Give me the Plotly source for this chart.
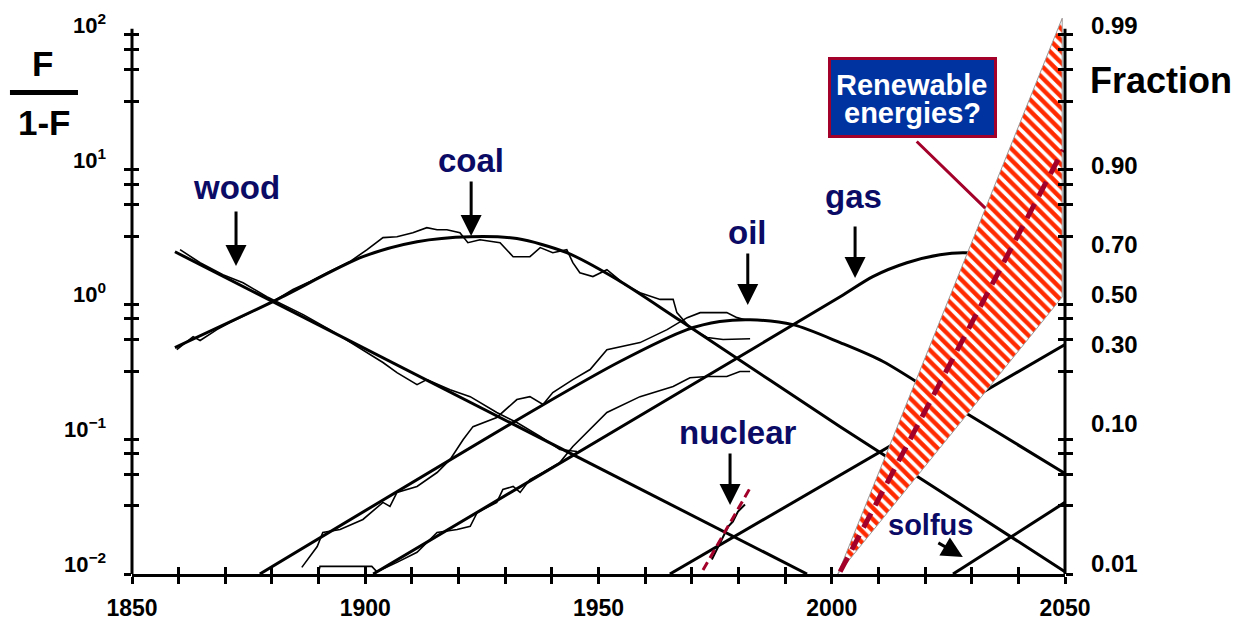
import math
import plotly.graph_objects as go

# ---------------- data (F/(1-F) versus year) ----------------
wood_fit_year = [1859.2, 1994.7]
wood_fit_val = [2.46, 0.01]

coal_fit_year = [1859.2, 1880.2, 1899.5, 1911.1, 1922.5, 1932.5, 1943.2, 1954.0, 1967.5, 2001.8, 2050.0]
coal_fit_val = [0.479, 1.05, 2.26, 2.92, 3.18, 3.08, 2.42, 1.53, 0.759, 0.124, 0.0104]

oil_fit_year = [1877.4, 1937.5, 1954.6, 1969.0, 1976.0, 1982.5, 1991.7, 2001.8, 2011.0, 2027.5, 2050.0]
oil_fit_val = [0.01, 0.175, 0.377, 0.650, 0.746, 0.770, 0.708, 0.521, 0.377, 0.166, 0.0557]

gas_fit_year = [1901.7, 1971.8, 2001.8, 2008.8, 2016.1, 2023.2, 2028.1, 2036.0, 2044.6]
gas_fit_val = [0.01, 0.275, 1.14, 1.61, 2.04, 2.34, 2.42, 2.30, 1.81]

nuclear_fit_year = [1965.3, 2050.0]
nuclear_fit_val = [0.01, 0.504]

solfus_fit_year = [2026.0, 2050.0]
solfus_fit_val = [0.01, 0.034]

# historical data
wood_data_year = [1860.3, 1864.6, 1869.5, 1873.8, 1878.9, 1886.7, 1892.4, 1899.5, 1903.8, 1906.8,
                  1911.1, 1913.2, 1918.2, 1922.5, 1928.2, 1932.5, 1937.5, 1941.7, 1945.4]
wood_data_val = [2.55, 2.04, 1.66, 1.45, 1.14, 0.840, 0.650, 0.462, 0.371, 0.312,
                 0.254, 0.277, 0.233, 0.207, 0.158, 0.133, 0.105, 0.0839, 0.0811]

coal_data_year = [1859.6, 1863.1, 1864.6, 1868.2, 1871.0, 1875.3, 1880.2, 1884.5, 1888.2, 1891.8,
                  1896.7, 1900.4, 1903.8, 1906.8, 1910.2, 1913.2, 1915.4, 1917.5, 1920.3, 1922.0,
                  1924.6, 1928.9, 1931.7, 1935.3, 1937.5, 1940.2, 1943.2, 1944.5, 1946.0, 1948.8,
                  1951.8, 1955.7, 1958.9, 1963.2, 1966.0, 1966.8, 1969.6, 1973.3, 1976.7, 1982.5]
coal_data_val = [0.462, 0.577, 0.540, 0.650, 0.733, 0.869, 1.05, 1.29, 1.48, 1.72,
                 2.08, 2.55, 3.13, 3.18, 3.40, 3.71, 3.58, 3.58, 3.40, 2.87,
                 3.02, 2.87, 2.26, 2.26, 2.64, 2.42, 2.55, 2.04, 1.72, 1.61,
                 1.81, 1.40, 1.22, 1.09, 1.09, 0.869, 0.673, 0.568, 0.549, 0.557]

oil_data_year = [1886.4, 1889.7, 1890.9, 1894.6, 1899.5, 1903.8, 1905.3, 1906.8, 1911.1, 1915.4,
                 1918.2, 1921.0, 1923.1, 1928.2, 1932.5, 1935.3, 1938.1, 1940.2, 1944.5, 1948.2,
                 1951.8, 1958.9, 1964.7, 1969.0, 1971.8, 1977.5, 1979.7, 1981.4]
oil_data_val = [0.0112, 0.0160, 0.0203, 0.0214, 0.0254, 0.0340, 0.0317, 0.0403, 0.0446, 0.0566,
                0.0708, 0.0995, 0.124, 0.145, 0.197, 0.207, 0.181, 0.222, 0.277, 0.329,
                0.462, 0.521, 0.650, 0.798, 0.869, 0.869, 0.798, 0.770]

gas_data_year = [1889.9, 1890.3, 1901.4, 1902.5, 1906.8, 1911.1, 1915.4, 1919.7, 1922.5, 1924.0,
                 1928.2, 1929.5, 1931.7, 1933.2, 1935.3, 1938.1, 1941.7, 1944.5, 1951.8, 1958.9,
                 1966.0, 1969.6, 1973.3, 1977.5, 1980.3, 1982.5]
gas_data_val = [0.01, 0.0114, 0.0114, 0.0104, 0.0122, 0.0145, 0.0203, 0.0214, 0.0226, 0.0286,
                0.0340, 0.0424, 0.0446, 0.0403, 0.0502, 0.0566, 0.0671, 0.0883, 0.158, 0.207,
                0.246, 0.286, 0.292, 0.292, 0.318, 0.318]

nuclear_data_year = [1974.3, 1976.5, 1977.8, 1978.8, 1979.9, 1981.4]
nuclear_data_val = [0.0128, 0.018, 0.0225, 0.0245, 0.0291, 0.0328]

nuclear_trend_year = [1972.4, 1982.5]
nuclear_trend_val = [0.0107, 0.0435]

renew_band_year = [2001.3, 2049.4, 2049.4, 2001.3]
renew_band_val = [0.01, 133.0, 1.135, 0.01]

renew_trend_year = [2001.8, 2049.6]
renew_trend_val = [0.0104, 14.0]

x_ticks = list(range(1850, 2051, 10))
x_labels = [str(v) if v % 50 == 0 else "" for v in x_ticks]
y_major = [0.01, 0.1, 1, 10, 100]
y_major_labels = ["10<sup>\u22122</sup>", "10<sup>\u22121</sup>", "10<sup>0</sup>", "10<sup>1</sup>", "10<sup>2</sup>"]
y_minor_mult = [3.2, 5.5, 7.8]
fraction_labels = [0.99, 0.90, 0.70, 0.50, 0.30, 0.10, 0.01]

# ---------------- styling ----------------
FONT = "Liberation Sans, Arial, Helvetica, sans-serif"
NAVY = "#0b0b66"
DARKRED = "#a3002a"
YMIN, YMAX = -2.0, 2.14

fig = go.Figure()

def line(x, y, width, color="black", dash=None, shape="linear", smoothing=None):
    ln = dict(color=color, width=width, shape=shape)
    if dash:
        ln["dash"] = dash
    if smoothing is not None:
        ln["smoothing"] = smoothing
    fig.add_trace(go.Scatter(x=x, y=y, mode="lines", line=ln, hoverinfo="skip", showlegend=False))

# historical data (thin, wiggly)
for xs, ys in [(wood_data_year, wood_data_val), (coal_data_year, coal_data_val),
               (oil_data_year, oil_data_val), (gas_data_year, gas_data_val)]:
    line(xs, ys, 1.6)

# fitted substitution curves
line(wood_fit_year, wood_fit_val, 3)
line(coal_fit_year, coal_fit_val, 3, shape="spline", smoothing=0.8)
line(oil_fit_year, oil_fit_val, 3, shape="spline", smoothing=0.8)
line(gas_fit_year, gas_fit_val, 3, shape="spline", smoothing=0.8)
line(nuclear_fit_year, nuclear_fit_val, 3)
line(solfus_fit_year, solfus_fit_val, 3)

# nuclear
line(nuclear_data_year, nuclear_data_val, 2)
line(nuclear_trend_year, nuclear_trend_val, 3, color=DARKRED, dash="9px,5px")

# renewable band
fig.add_trace(go.Scatter(
    x=renew_band_year, y=renew_band_val, mode="lines", fill="toself", fillcolor="white",
    line=dict(color="#9a9a9a", width=1),
    fillpattern=dict(shape="\\", fgcolor="#ff2a00", bgcolor="white", fgopacity=1,
                     size=8, solidity=0.55),
    hoverinfo="skip", showlegend=False))
line(renew_trend_year, renew_trend_val, 5, color=DARKRED, dash="16px,9px")

# invisible anchors for the overlay (tick) axes
for xa, ya in [("x2", "y"), ("x", "y2"), ("x", "y3"), ("x", "y4")]:
    fig.add_trace(go.Scatter(x=[1850], y=[1], xaxis=xa, yaxis=ya, mode="markers",
                             marker=dict(opacity=0), hoverinfo="skip", showlegend=False))

y_ticks = y_major + [m * 10 ** k for k in range(-2, 2) for m in y_minor_mult]
ycommon = dict(type="log", range=[YMIN, YMAX], tickvals=y_ticks, showticklabels=False,
               showgrid=False, zeroline=False, showline=False, tickcolor="black",
               tickwidth=2.5, ticklen=7, anchor="x", automargin=False)

fig.update_layout(
    width=1245, height=619,
    margin=dict(l=132, r=180, t=16, b=45),
    paper_bgcolor="white", plot_bgcolor="white",
    showlegend=False, hovermode=False,
    font=dict(family=FONT, color="black"),
    xaxis=dict(range=[1850, 2050], tickvals=x_ticks, ticktext=x_labels, ticks="outside",
               ticklen=7, tickwidth=2.5, tickcolor="black", showline=True, linewidth=3,
               linecolor="black", showgrid=False, zeroline=False, anchor="y", automargin=False,
               tickfont=dict(size=23, family=FONT, color="black", weight="bold"),
               ticklabelstandoff=4),
    xaxis2=dict(range=[1850, 2050], tickvals=x_ticks, ticks="inside", ticklen=7, tickwidth=2.5,
                tickcolor="black", showticklabels=False, showline=False, showgrid=False,
                zeroline=False, overlaying="x", anchor="y", side="bottom", automargin=False),
    yaxis=dict(**ycommon, ticks="outside", side="left"),
    yaxis2=dict(**ycommon, ticks="inside", side="left", overlaying="y"),
    yaxis3=dict(**ycommon, ticks="outside", side="right", overlaying="y"),
    yaxis4=dict(**ycommon, ticks="inside", side="right", overlaying="y"),
)

# vertical axis lines (stop a little above 10^2 as in the original)
top = (2.045 - YMIN) / (YMAX - YMIN)
for xp in (0, 1):
    fig.add_shape(type="line", xref="paper", yref="paper", x0=xp, x1=xp, y0=0, y1=top,
                  line=dict(color="black", width=3))

ann = []
# left axis labels
for v, t in zip(y_major, y_major_labels):
    ann.append(dict(x=0, xref="paper", y=math.log10(v), yref="y", text=t, showarrow=False,
                    xanchor="right", yanchor="middle", xshift=-24, yshift=11,
                    font=dict(size=22, family=FONT, color="black", weight="bold")))
# right fraction labels
for f in fraction_labels:
    ann.append(dict(x=1, xref="paper", y=math.log10(f / (1 - f)), yref="y", text=f"{f:.2f}",
                    showarrow=False, xanchor="left", yanchor="middle", xshift=24, yshift=10,
                    font=dict(size=24, family=FONT, color="black", weight="bold")))
ann.append(dict(x=1.1029, xref="paper", y=0.885, yref="paper", text="Fraction", showarrow=False,
                xanchor="center", yanchor="middle",
                font=dict(size=36, family=FONT, color="black", weight="bold")))
# F / (1-F)
ann.append(dict(x=-0.0954, xref="paper", y=0.914, yref="paper", text="F", showarrow=False,
                xanchor="center", yanchor="middle",
                font=dict(size=35, family=FONT, color="black", weight="bold")))
ann.append(dict(x=-0.0943, xref="paper", y=0.810, yref="paper", text="1-F", showarrow=False,
                xanchor="center", yanchor="middle",
                font=dict(size=35, family=FONT, color="black", weight="bold")))
fig.add_shape(type="line", xref="paper", yref="paper", x0=-0.1308, x1=-0.0579, y0=0.863, y1=0.863,
              line=dict(color="black", width=5))

# fuel labels (year, log10 position, font size) and arrows (tip year, tip log10, ax, ay)
fuel_labels = {"wood": (1872.3, 0.866, 33), "coal": (1922.7, 1.067, 33), "oil": (1982.0, 0.533, 33),
               "gas": (2004.6, 0.800, 33), "nuclear": (1980.0, -0.951, 33), "solfus": (2021.2, -1.637, 29)}
fuel_arrows = {"wood": (1872.3, 0.285, 0, -56), "coal": (1922.7, 0.507, 0, -56),
               "oil": (1982.0, -0.004, 0, -53), "gas": (2005.0, 0.196, 0, -53),
               "nuclear": (1978.2, -1.488, 0, -53), "solfus": (2028.1, -1.874, -26, -15)}
for name, (xx, yy, sz) in fuel_labels.items():
    ann.append(dict(x=xx, y=yy, xref="x", yref="y", text=name, showarrow=False,
                    xanchor="center", yanchor="middle",
                    font=dict(size=sz, family=FONT, color=NAVY, weight="bold")))
for name, (xx, yy, axp, ayp) in fuel_arrows.items():
    ann.append(dict(x=xx, y=yy, xref="x", yref="y", text="", showarrow=True, ax=axp, ay=ayp,
                    arrowhead=2, arrowsize=1.4, arrowwidth=3, arrowcolor="black", standoff=0))

# renewable call-out box
ann.append(dict(x=2032.9, y=0.715, xref="x", yref="y", text="", showarrow=True, ax=-70, ay=-68,
                arrowhead=0, arrowwidth=3, arrowcolor=DARKRED, standoff=0))
ann.append(dict(x=2017.3, y=1.535, xref="x", yref="y", text=" ", showarrow=False,
                xanchor="center", yanchor="middle",
                width=163, height=75, bgcolor="#0033a0", bordercolor=DARKRED, borderwidth=3,
                borderpad=0, font=dict(size=10)))
ann.append(dict(x=2017.3, y=2 - (85 - 34.8) / 134.8, xref="x", yref="y", text="Renewable",
                showarrow=False, xanchor="center", yanchor="middle",
                font=dict(size=29, family=FONT, color="white", weight="bold")))
ann.append(dict(x=2017.3, y=2 - (113 - 34.8) / 134.8, xref="x", yref="y", text="energies?",
                showarrow=False, xanchor="center", yanchor="middle",
                font=dict(size=29, family=FONT, color="white", weight="bold")))

fig.update_layout(annotations=ann)
# remove the default page margin so the 1245x619 figure fills the window exactly
fig.write_html("out.html", config={"displayModeBar": False},
               post_script="document.body.style.margin='0px';")
